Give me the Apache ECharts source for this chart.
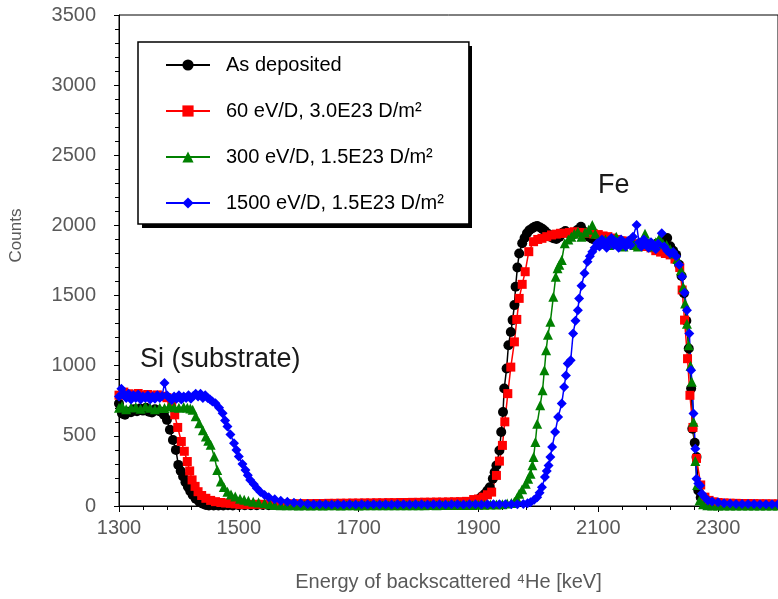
<!DOCTYPE html>
<html>
<head>
<meta charset="utf-8">
<script src="https://cdn.jsdelivr.net/npm/echarts@6/dist/echarts.min.js"></script>
<style>
  html, body { margin: 0; padding: 0; background: #fff; }
  #chart { width: 778px; height: 599px; }
</style>
</head>
<body>
<div id="chart"></div>
<script>
// RBS spectra, [energy keV, counts]
const asDeposited = [[1300,730],[1305,660],[1310,650],[1315,672],[1320,668],[1325,690],[1330,675],[1335,695],[1340,680],[1345,700],[1350,672],[1355,667],[1360,690],[1365,680],[1370,672],[1375,650],[1380,614],[1385,543],[1390,471],[1395,400],[1399,293],[1403,250],[1407,210],[1411,170],[1415,138],[1419,105],[1423,79],[1428,52],[1434,31],[1440,16],[1445,7],[1450,4],[1458,3],[1466,4],[1474,3],[1482,5],[1490,4],[1500,6],[1510,5],[1520,6],[1530,5],[1540,7],[1550,6],[1560,7],[1570,8],[1580,7],[1590,8],[1600,9],[1610,8],[1620,9],[1630,10],[1640,9],[1650,10],[1660,10],[1670,9],[1680,11],[1690,10],[1700,11],[1710,10],[1720,12],[1730,11],[1740,12],[1750,11],[1760,13],[1770,12],[1780,13],[1790,12],[1800,14],[1810,13],[1820,14],[1830,15],[1840,16],[1850,17],[1860,19],[1870,22],[1880,25],[1887,30],[1895,40],[1902,53],[1906,70],[1911,87],[1915,110],[1919,134],[1924,194],[1927,240],[1930,289],[1935,396],[1938,527],[1941,670],[1943,837],[1947,980],[1950,1146],[1954,1240],[1957,1325],[1960,1432],[1962,1563],[1965,1700],[1968,1800],[1973,1873],[1977,1910],[1981,1944],[1985,1965],[1990,1980],[1994,1990],[1998,1996],[2003,1985],[2007,1975],[2011,1960],[2016,1940],[2020,1920],[2025,1908],[2030,1903],[2035,1918],[2040,1948],[2045,1960],[2050,1945],[2055,1928],[2060,1940],[2065,1968],[2071,1990],[2075,1960],[2080,1938],[2085,1918],[2090,1905],[2095,1895],[2100,1890],[2107,1885],[2114,1905],[2120,1890],[2127,1880],[2134,1872],[2141,1885],[2148,1870],[2155,1878],[2162,1862],[2169,1872],[2176,1858],[2183,1866],[2190,1860],[2197,1870],[2204,1885],[2210,1898],[2215,1910],[2220,1852],[2225,1820],[2230,1790],[2235,1720],[2239,1640],[2243,1516],[2247,1320],[2251,1123],[2255,837],[2257,551],[2261,450],[2264,349],[2267,111],[2271,60],[2275,35],[2280,22],[2287,14],[2295,11],[2305,10],[2315,9],[2325,9],[2335,8],[2345,9],[2355,8],[2365,8],[2375,7],[2385,8],[2395,7]];

const ev60 = [[1300,790],[1308,812],[1316,800],[1324,792],[1332,802],[1340,790],[1348,795],[1356,785],[1364,792],[1372,782],[1380,772],[1388,745],[1393,650],[1398,560],[1404,460],[1409,390],[1414,317],[1418,250],[1422,186],[1427,140],[1432,102],[1438,75],[1445,55],[1453,40],[1461,31],[1470,25],[1478,21],[1486,19],[1494,15],[1502,11],[1510,10],[1520,11],[1530,12],[1540,12],[1550,13],[1560,14],[1570,14],[1580,15],[1590,16],[1600,16],[1610,17],[1620,17],[1630,18],[1640,18],[1650,19],[1660,19],[1670,20],[1680,20],[1690,21],[1700,21],[1710,22],[1720,22],[1730,23],[1740,23],[1750,24],[1760,24],[1770,25],[1780,25],[1790,26],[1800,26],[1810,27],[1820,27],[1830,28],[1840,28],[1850,29],[1860,30],[1870,31],[1880,33],[1892,46],[1900,50],[1908,63],[1915,80],[1922,99],[1930,218],[1935,320],[1940,432],[1944,600],[1949,801],[1954,990],[1960,1170],[1964,1330],[1968,1480],[1973,1580],[1978,1670],[1984,1813],[1992,1884],[1999,1900],[2006,1908],[2014,1920],[2022,1932],[2030,1938],[2037,1944],[2044,1944],[2052,1950],[2060,1955],[2068,1950],[2076,1948],[2084,1945],[2092,1940],[2100,1935],[2108,1925],[2116,1920],[2124,1910],[2132,1900],[2140,1890],[2148,1885],[2156,1870],[2164,1860],[2172,1855],[2180,1850],[2188,1840],[2196,1820],[2204,1810],[2212,1800],[2220,1790],[2228,1760],[2236,1700],[2240,1540],[2244,1325],[2249,1050],[2253,789],[2258,560],[2264,339],[2271,150],[2278,63],[2285,40],[2292,30],[2300,25],[2310,22],[2320,20],[2330,19],[2340,18],[2350,18],[2360,17],[2370,16],[2380,16],[2390,15],[2400,15]];

const ev300 = [[1300,700],[1305,712],[1312,690],[1320,702],[1328,706],[1336,694],[1344,710],[1352,700],[1360,690],[1368,700],[1376,698],[1384,712],[1392,704],[1400,700],[1408,706],[1414,700],[1419,695],[1423,686],[1428,640],[1434,590],[1440,540],[1445,495],[1449,465],[1453,436],[1459,352],[1464,257],[1470,174],[1475,135],[1481,102],[1487,82],[1494,67],[1502,52],[1509,45],[1516,38],[1524,30],[1533,25],[1543,19],[1552,12],[1560,8],[1570,6],[1580,5],[1590,5],[1600,4],[1610,5],[1620,4],[1630,5],[1640,4],[1650,5],[1660,5],[1670,4],[1680,5],[1690,5],[1700,4],[1710,5],[1720,5],[1730,6],[1740,5],[1750,6],[1760,5],[1770,6],[1780,6],[1790,5],[1800,6],[1810,6],[1820,7],[1830,6],[1840,7],[1850,7],[1860,7],[1870,8],[1880,8],[1890,8],[1900,9],[1910,9],[1920,10],[1930,11],[1940,13],[1948,17],[1955,22],[1960,30],[1964,55],[1968,87],[1973,120],[1979,159],[1983,195],[1987,230],[1990,290],[1992,349],[1995,456],[1998,587],[2003,718],[2007,825],[2010,968],[2013,1111],[2016,1220],[2020,1313],[2025,1491],[2029,1634],[2032,1694],[2035,1720],[2039,1753],[2044,1873],[2050,1900],[2055,1920],[2060,1940],[2066,1955],[2072,1920],[2078,1950],[2084,1970],[2090,2003],[2095,1940],[2100,1900],[2106,1870],[2112,1900],[2118,1860],[2124,1890],[2130,1920],[2136,1870],[2142,1850],[2148,1880],[2154,1900],[2160,1860],[2166,1850],[2172,1880],[2178,1940],[2184,1870],[2190,1850],[2196,1880],[2202,1910],[2208,1870],[2214,1860],[2220,1830],[2226,1800],[2232,1760],[2238,1680],[2242,1560],[2245,1444],[2248,1300],[2251,1146],[2254,1000],[2256,885],[2259,600],[2262,320],[2265,150],[2269,40],[2275,12],[2282,5],[2290,3],[2300,3],[2310,4],[2320,3],[2330,4],[2340,3],[2350,4],[2360,3],[2370,4],[2380,3],[2390,4],[2400,3]];

const ev1500 = [[1300,780],[1304,835],[1308,800],[1312,770],[1316,800],[1320,760],[1324,790],[1328,770],[1332,795],[1336,760],[1340,780],[1344,770],[1348,790],[1352,760],[1356,780],[1360,765],[1364,790],[1368,770],[1372,785],[1376,876],[1380,790],[1384,770],[1388,755],[1392,780],[1396,765],[1400,790],[1404,760],[1408,780],[1412,770],[1416,790],[1420,765],[1424,785],[1428,800],[1432,780],[1436,800],[1440,770],[1444,790],[1448,770],[1452,760],[1456,745],[1461,733],[1467,700],[1473,662],[1477,610],[1481,567],[1486,510],[1492,448],[1496,400],[1500,352],[1506,300],[1511,257],[1515,220],[1519,186],[1525,155],[1530,126],[1536,100],[1543,79],[1550,62],[1560,48],[1570,38],[1581,31],[1592,24],[1603,19],[1615,15],[1625,13],[1635,12],[1645,12],[1655,11],[1665,12],[1675,11],[1685,12],[1695,11],[1705,12],[1715,11],[1725,12],[1735,11],[1745,12],[1755,11],[1765,12],[1775,12],[1785,11],[1795,12],[1805,12],[1815,11],[1825,12],[1835,12],[1845,11],[1855,12],[1865,12],[1875,11],[1885,12],[1895,12],[1905,11],[1915,12],[1925,12],[1935,12],[1945,12],[1955,13],[1965,13],[1975,15],[1982,20],[1987,27],[1993,45],[1998,63],[2002,95],[2006,134],[2011,206],[2014,250],[2017,289],[2020,350],[2023,420],[2028,527],[2033,634],[2039,730],[2043,849],[2046,930],[2049,1016],[2054,1039],[2058,1230],[2062,1320],[2066,1396],[2068,1480],[2072,1570],[2077,1659],[2082,1741],[2086,1780],[2090,1813],[2094,1840],[2098,1873],[2102,1850],[2106,1900],[2110,1870],[2114,1840],[2118,1890],[2122,1910],[2126,1860],[2130,1880],[2134,1840],[2138,1900],[2142,1870],[2146,1850],[2150,1890],[2154,1860],[2158,1920],[2164,2003],[2168,1880],[2172,1850],[2176,1900],[2180,1870],[2184,1840],[2188,1880],[2192,1860],[2196,1830],[2200,1870],[2206,1944],[2210,1850],[2215,1820],[2220,1800],[2225,1810],[2230,1780],[2235,1720],[2240,1634],[2244,1520],[2248,1396],[2252,1230],[2255,968],[2259,659],[2262,408],[2264,194],[2267,160],[2270,146],[2273,87],[2278,60],[2283,39],[2290,32],[2300,27],[2310,20],[2320,17],[2330,15],[2340,15],[2350,14],[2360,14],[2370,13],[2380,13],[2390,12],[2400,12]];

const seriesNames = ["As deposited", "60 eV/D, 3.0E23 D/m²", "300 eV/D, 1.5E23 D/m²", "1500 eV/D, 1.5E23 D/m²"];
const seriesData = [asDeposited, ev60, ev300, ev1500];

const FONT = "'Liberation Sans', Arial, sans-serif";
const looks = [
  { color: "#000000", symbol: "circle", size: 10 },
  { color: "#ff0000", symbol: "rect", size: 9 },
  { color: "#008000", symbol: "triangle", size: 10 },
  { color: "#0000ff", symbol: "diamond", size: 10 },
];

const chart = echarts.init(document.getElementById("chart"));
const options = {
  animation: false,
  textStyle: { fontFamily: FONT },
  grid: {
    left: 114,
    top: 15,
    right: -10,
    bottom: 93,
    show: true,
    borderColor: "#000",
    borderWidth: 1,
  },
  legend: {
    orient: "vertical",
    left: 138,
    top: 42,
    z: 10,
    padding: [13, 25, 11, 27],
    itemWidth: 44,
    itemHeight: 14,
    itemGap: 26,
    backgroundColor: "#fff",
    borderColor: "#000",
    borderWidth: 1.5,
    textStyle: { fontSize: 20, color: "#000", fontFamily: FONT, lineHeight: 20, padding: [0, 0, 0, 11] },
    data: seriesNames,
  },
  xAxis: {
    type: "value",
    min: 1300,
    max: 2400,
    interval: 200,
    name: "Energy of backscattered \u2074He [keV]",
    nameLocation: "middle",
    nameGap: 66,
    nameTextStyle: { fontSize: 20, color: "#595959", fontFamily: FONT },
    axisLine: { lineStyle: { color: "#000", width: 1 } },
    axisTick: { length: 6, lineStyle: { color: "#000" } },
    minorTick: { show: true, splitNumber: 5, length: 4, lineStyle: { color: "#000" } },
    axisLabel: { fontSize: 20, color: "#595959", margin: 12, showMaxLabel: false, formatter: (v) => String(v) },
    splitLine: { show: false },
  },
  yAxis: {
    type: "value",
    min: 0,
    max: 3500,
    interval: 500,
    name: "Counts",
    nameLocation: "middle",
    nameGap: 94,
    nameTextStyle: { fontSize: 17, color: "#595959", fontFamily: FONT, padding: [0, 0, 0, 50] },
    axisLine: { show: true, lineStyle: { color: "#000", width: 1 } },
    axisTick: { length: 5, lineStyle: { color: "#000" } },
    minorTick: { show: true, splitNumber: 5, length: 4, lineStyle: { color: "#000" } },
    axisLabel: { fontSize: 20, color: "#595959", margin: 23, formatter: (v) => String(v) },
    splitLine: { show: false },
  },
  graphic: [
    // legend drop shadow
    { type: "rect", z: 9, shape: { x: 142, y: 46, width: 330, height: 182 }, style: { fill: "#000" } },
    { type: "text", x: 140, y: 360, style: { text: "Si (substrate)", fontSize: 27, fill: "#1a1a1a", fontFamily: FONT, verticalAlign: "middle" } },
    { type: "text", x: 598, y: 186, style: { text: "Fe", fontSize: 27, fill: "#1a1a1a", fontFamily: FONT, verticalAlign: "middle" } },
  ],
  series: seriesNames.map((name, i) => ({
    name,
    type: "line",
    data: seriesData[i],
    symbol: looks[i].symbol,
    symbolSize: looks[i].size,
    showAllSymbol: true,
    color: looks[i].color,
    itemStyle: { color: looks[i].color },
    lineStyle: { color: looks[i].color, width: 1.5 },
  })),
};
chart.setOption(options);
</script>
</body>
</html>
